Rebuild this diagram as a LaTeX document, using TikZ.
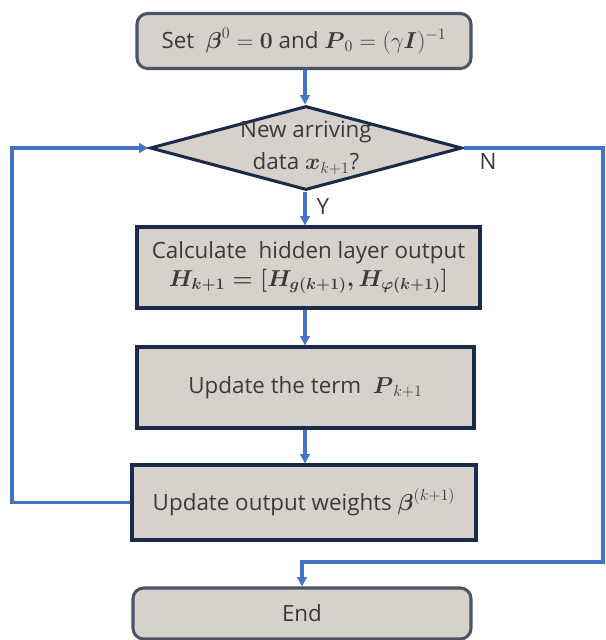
\documentclass[tikz,border=0pt]{standalone}
\usepackage{amsmath}
\usepackage[no-math]{fontspec}
\setmainfont{Open Sans}
\usetikzlibrary{shapes.geometric,arrows.meta}
\definecolor{boxfill}{HTML}{D6D2CB}
\definecolor{navy}{HTML}{1C2A4A}
\definecolor{slate}{HTML}{4A5466}
\definecolor{flow}{HTML}{4472C4}
\definecolor{txt}{HTML}{3A3A3A}
\tikzset{
  base/.style={fill=boxfill, line width=2.3pt, text=txt, font=\fontsize{16.8}{21}\selectfont, align=center, inner sep=0pt},
  roundbox/.style={base, draw=slate, rounded corners=8pt, rectangle},
  sqbox/.style={base, draw=navy, rectangle},
  decision/.style={base, draw=navy, diamond},
  arr/.style={draw=flow, line width=2.3pt, -{Triangle[length=7pt,width=7pt]}},
  lbl/.style={text=txt, font=\fontsize{16.8}{21}\selectfont, inner sep=0pt, align=center}
}
\begin{document}
\begin{tikzpicture}[x=0.75pt,y=-0.75pt]
\useasboundingbox (0,0) rectangle (606,640);
\node[roundbox, minimum width=334*0.75pt, minimum height=55*0.75pt] (top) at (304,41)
  {Set \ $\boldsymbol{\beta}^0=\boldsymbol{0}$ and $\boldsymbol{P}_0=(\gamma\boldsymbol{I})^{-1}$};
\node[decision, minimum width=312*0.75pt, minimum height=84*0.75pt] (d) at (306,148) {};
\node[lbl] (dtext) at (306,148) {New arriving\\[3pt] data $\boldsymbol{x}_{k+1}$?};
\node[sqbox, minimum width=343*0.75pt, minimum height=81*0.75pt] (calc) at (308.5,267.5)
  {Calculate \ hidden layer output\\ $\boldsymbol{H_{k+1}=[H_{g(k+1)},H_{\varphi(k+1)}]}$};
\node[sqbox, minimum width=337*0.75pt, minimum height=81*0.75pt] (term) at (305.5,387.5)
  {Update the term \ $\boldsymbol{P}_{k+1}$};
\node[sqbox, minimum width=344*0.75pt, minimum height=75*0.75pt] (wts) at (304,502.5)
  {Update output weights $\boldsymbol{\beta}^{(k+1)}$};
\node[roundbox, minimum width=338*0.75pt, minimum height=51*0.75pt] (end) at (302,613.5) {End};
\coordinate (lx) at (12,0);
\coordinate (rx) at (603,0);
\coordinate (ry) at (0,562);
\coordinate (ax) at (305,0);
\draw[arr] (top.south -| ax) -- (d.north -| ax);
\draw[arr] (d.south -| ax) -- (calc.north -| ax);
\draw[arr] (calc.south -| ax) -- (term.north -| ax);
\draw[arr] (term.south -| ax) -- (wts.north -| ax);
\draw[arr] (wts.west) -- (wts.west -| lx) -- (lx |- d.west) -- (d.west);
\draw[arr] (d.east) -- (d.east -| rx) -- (rx |- ry) -- (ry -| end.north) -- (end.north);
\node[lbl] (ylab) at (323,206) {Y};
\node[lbl] (nlab) at (488,161) {N};
\end{tikzpicture}
\end{document}
